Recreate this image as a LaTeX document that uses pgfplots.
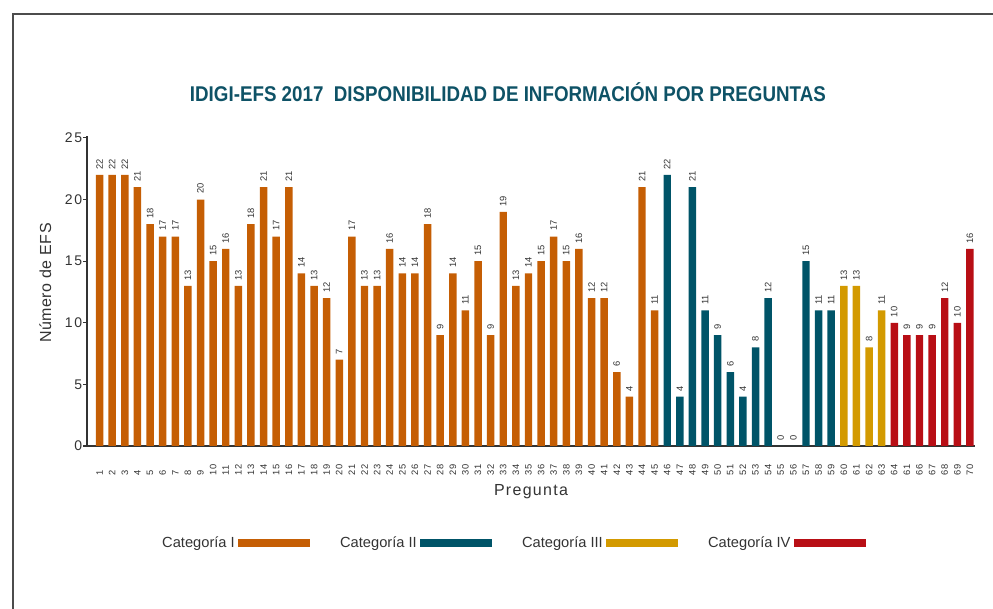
\documentclass[border=0pt]{standalone}
\usepackage{fontspec}
\setmainfont{Liberation Sans}
\newfontfamily\titlefont{Liberation Sans}[FakeStretch=0.88]
\newfontfamily\tickfont{Liberation Sans}[LetterSpace=12]
\newfontfamily\xlabelfont{Liberation Sans}[LetterSpace=8]
\newfontfamily\ylabelfont{Liberation Sans}[LetterSpace=3]
\usepackage{pgfplots}
\pgfplotsset{compat=1.18}
\definecolor{catI}{HTML}{C55E04}
\definecolor{catII}{HTML}{005468}
\definecolor{catIII}{HTML}{D39A00}
\definecolor{catIV}{HTML}{B80E15}
\definecolor{titlecol}{HTML}{0E5266}
\definecolor{txt}{HTML}{333333}
\begin{document}
\begin{tikzpicture}
\path[use as bounding box] (0,0) rectangle (744.75pt,456.75pt);
\draw[line width=1.5pt, color=black!70] (9.75pt,0pt) -- (9.75pt,446.25pt) -- (744.75pt,446.25pt);
\begin{axis}[
  at={(65.25pt,122.25pt)}, anchor=south west,
  scale only axis, width=666pt, height=232.5pt,
  xmin=0, xmax=70.4, ymin=0, ymax=25.16,
  axis lines*=left,
  axis line style={-, line width=0.8pt, color=black!80},
  /pgf/number format/assume math mode=true,
  ytick={0,5,...,25},
  tick align=outside,
  major tick length=3pt,
  tick style={line width=0.8pt, color=black!80},
  xtick={1,...,70},
  xticklabels={1,2,3,4,5,6,7,8,9,10,11,12,13,14,15,16,17,18,19,20,21,22,23,24,25,26,27,28,29,30,31,32,33,34,35,36,37,38,39,40,41,42,43,44,45,46,47,48,49,50,51,52,53,54,55,56,57,58,59,60,61,62,63,64,61,66,67,68,69,70},
  xtick style={draw=none},
  xticklabel style={rotate=90, anchor=west, font=\fontsize{7}{8}\selectfont, text=txt, inner sep=0pt},
  xticklabel shift=19pt,
  yticklabel style={font=\tickfont\fontsize{10.5}{12}\selectfont, text=txt, inner sep=0.5pt},
  ylabel={Número de EFS},
  ylabel style={at={(axis description cs:-0.047,0.526)}, anchor=center, font=\ylabelfont\fontsize{12}{14}\selectfont, text=txt},
  xlabel={Pregunta},
  xlabel style={at={(axis description cs:0.5,-0.148)}, anchor=center, font=\xlabelfont\fontsize{12}{14}\selectfont, text=txt},
  title={IDIGI-EFS 2017\ \ DISPONIBILIDAD DE INFORMACIÓN POR PREGUNTAS},
  title style={at={(axis description cs:0.474,1.116)}, anchor=center, font=\titlefont\bfseries\fontsize{16}{18}\selectfont, text=titlecol},
  ybar, bar width=5.6pt,
  nodes near coords,
  nodes near coords style={rotate=90, anchor=west, font=\fontsize{7}{8}\selectfont, text=txt, inner xsep=4pt, inner ysep=0pt},
  legend columns=4,
  legend plot pos=right,
  legend style={at={(axis description cs:0.479,-0.313)}, anchor=center, draw=none, fill=none,
    font=\fontsize{11}{13}\selectfont, text=txt,
    nodes={inner sep=2.5pt},
    /tikz/every even column/.append style={column sep=20pt}},
  legend image code/.code={\fill[#1, draw=none] (0pt,-2.9pt) rectangle (54pt,2.9pt);},
]
\addplot[fill=catI, draw=none, bar shift=0pt] coordinates {(1,22)(2,22)(3,22)(4,21)(5,18)(6,17)(7,17)(8,13)(9,20)(10,15)(11,16)(12,13)(13,18)(14,21)(15,17)(16,21)(17,14)(18,13)(19,12)(20,7)(21,17)(22,13)(23,13)(24,16)(25,14)(26,14)(27,18)(28,9)(29,14)(30,11)(31,15)(32,9)(33,19)(34,13)(35,14)(36,15)(37,17)(38,15)(39,16)(40,12)(41,12)(42,6)(43,4)(44,21)(45,11)};
\addlegendentry{Categoría I}
\addplot[fill=catII, draw=none, bar shift=0pt] coordinates {(46,22)(47,4)(48,21)(49,11)(50,9)(51,6)(52,4)(53,8)(54,12)(55,0)(56,0)(57,15)(58,11)(59,11)};
\addlegendentry{Categoría II}
\addplot[fill=catIII, draw=none, bar shift=0pt] coordinates {(60,13)(61,13)(62,8)(63,11)};
\addlegendentry{Categoría III}
\addplot[fill=catIV, draw=none, bar shift=0pt] coordinates {(64,10)(65,9)(66,9)(67,9)(68,12)(69,10)(70,16)};
\addlegendentry{Categoría IV}
\end{axis}
\end{tikzpicture}
\end{document}
